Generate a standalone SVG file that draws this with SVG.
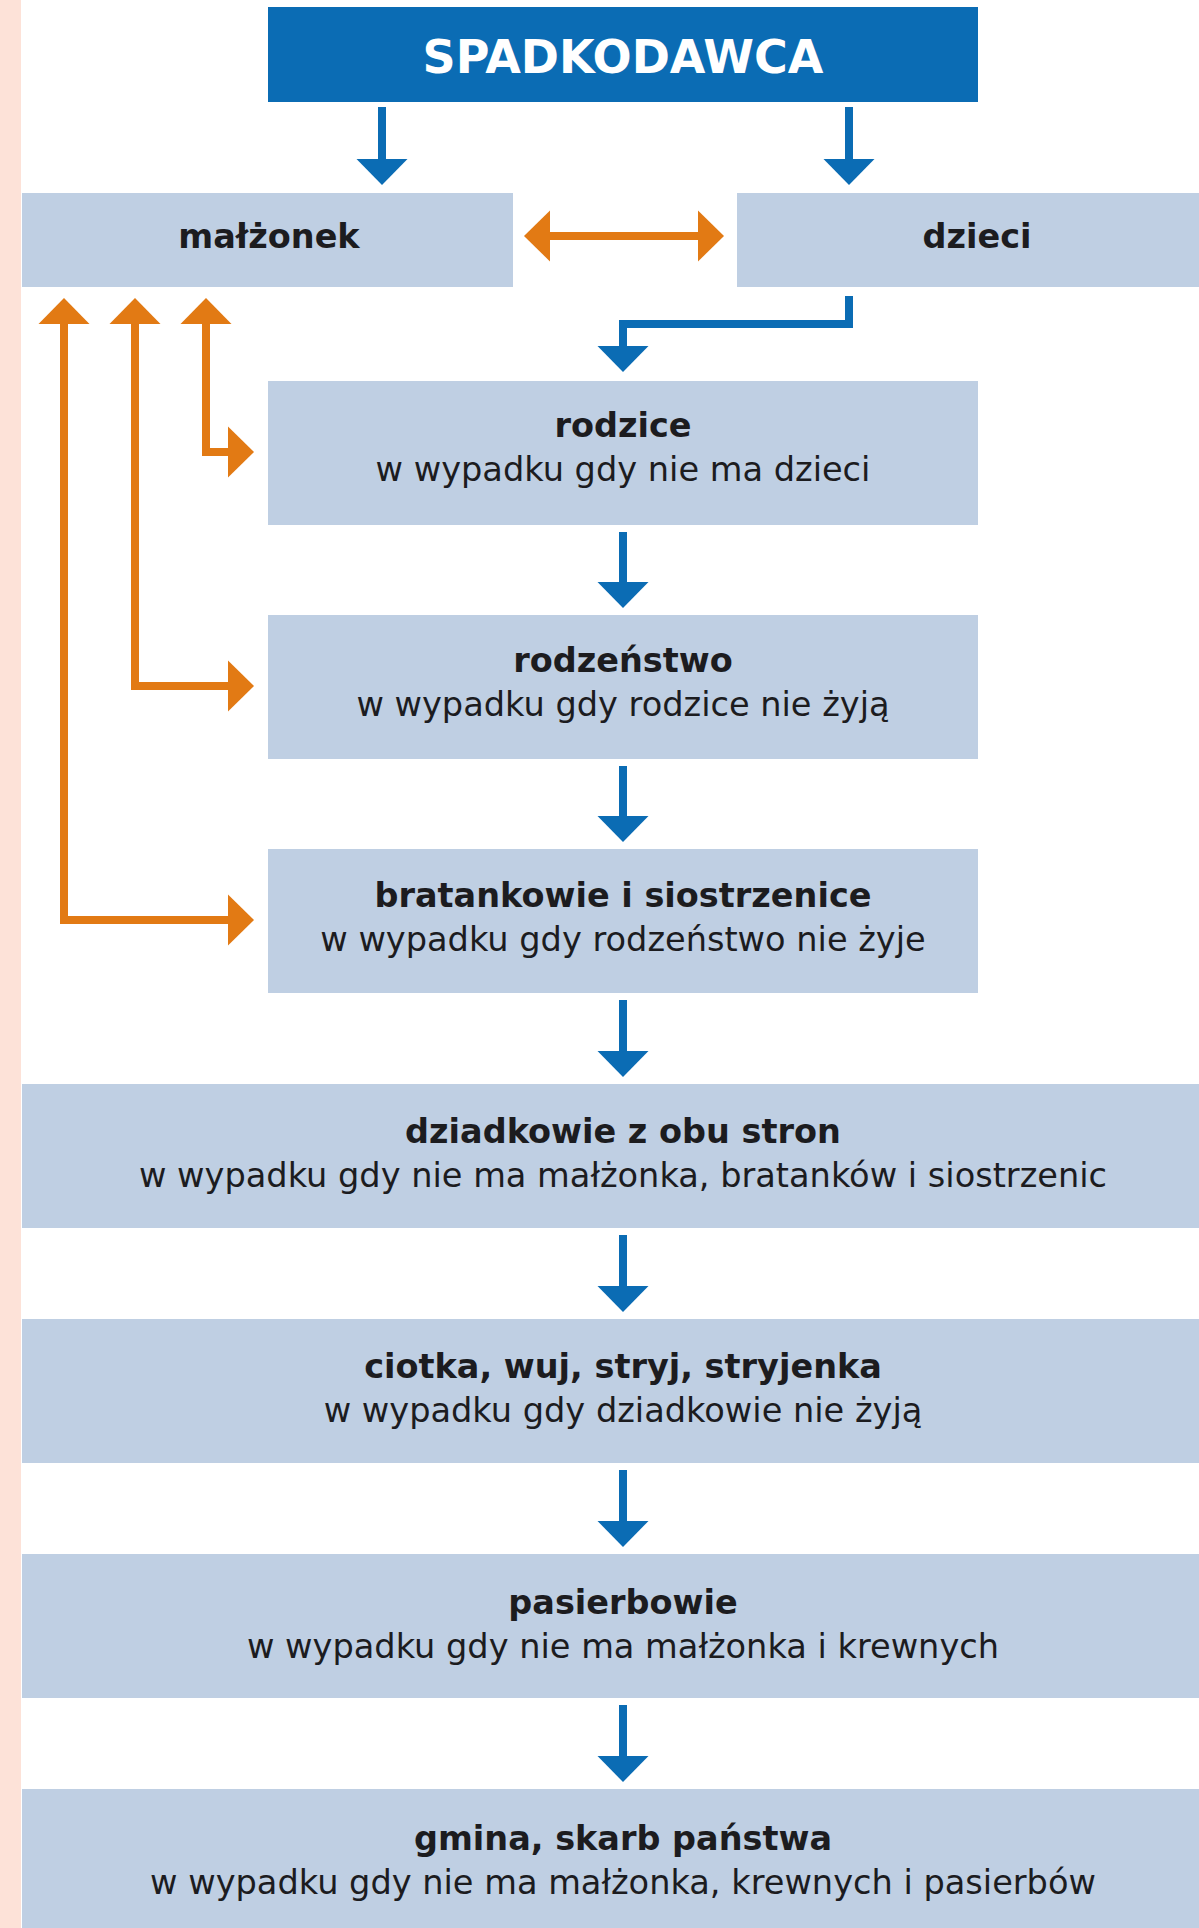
<svg xmlns="http://www.w3.org/2000/svg" width="1199" height="1928" viewBox="0 0 1199 1928">
<style>
.box{fill:#bfcfe3}
.top{fill:#0b6cb4}
.t{font-family:"DejaVu Sans","Liberation Sans",sans-serif;font-weight:bold;font-size:33.5px;fill:#1c1c1f;text-anchor:middle}
.s{font-family:"DejaVu Sans","Liberation Sans",sans-serif;font-size:33.6px;fill:#1c1c1f;text-anchor:middle}
.h{font-family:"DejaVu Sans","Liberation Sans",sans-serif;font-weight:bold;font-size:46px;fill:#ffffff;text-anchor:middle}
.cb{fill:none;stroke:#0b6cb4;stroke-width:8;stroke-linejoin:miter;marker-end:url(#hb)}
.co{fill:none;stroke:#e27a14;stroke-width:8;stroke-linejoin:miter;marker-start:url(#ho);marker-end:url(#ho)}
</style>
<defs>
<marker id="hb" markerUnits="userSpaceOnUse" markerWidth="26" markerHeight="52" viewBox="0 0 26 52" refX="1" refY="26" orient="auto-start-reverse"><path d="M0,0.5 L26,26 L0,51.5 Z" fill="#0b6cb4"/></marker>
<marker id="ho" markerUnits="userSpaceOnUse" markerWidth="26" markerHeight="52" viewBox="0 0 26 52" refX="1" refY="26" orient="auto-start-reverse"><path d="M0,0.5 L26,26 L0,51.5 Z" fill="#e27a14"/></marker>
</defs>
<rect x="0" y="0" width="1199" height="1928" fill="#ffffff"/>
<rect x="0" y="0" width="21" height="1928" fill="#fde2d8"/>

<g id="spadkodawca"><rect class="top" x="268" y="7" width="710" height="95"/><text class="h" x="623" y="73">SPADKODAWCA</text></g>
<g id="malzonek"><rect class="box" x="22" y="193" width="491" height="94"/><text class="t" x="269" y="248">małżonek</text></g>
<g id="dzieci"><rect class="box" x="737" y="193" width="462" height="94"/><text class="t" x="977" y="248">dzieci</text></g>
<g id="rodzice"><rect class="box" x="268" y="381" width="710" height="144"/><text class="t" x="623" y="437">rodzice</text><text class="s" x="623" y="481">w wypadku gdy nie ma dzieci</text></g>
<g id="rodzenstwo"><rect class="box" x="268" y="615" width="710" height="144"/><text class="t" x="623" y="672">rodzeństwo</text><text class="s" x="623" y="716">w wypadku gdy rodzice nie żyją</text></g>
<g id="bratankowie"><rect class="box" x="268" y="849" width="710" height="144"/><text class="t" x="623" y="907">bratankowie i siostrzenice</text><text class="s" x="623" y="951">w wypadku gdy rodzeństwo nie żyje</text></g>
<g id="dziadkowie"><rect class="box" x="22" y="1084" width="1177" height="144"/><text class="t" x="623" y="1143">dziadkowie z obu stron</text><text class="s" x="623" y="1187">w wypadku gdy nie ma małżonka, bratanków i siostrzenic</text></g>
<g id="ciotka"><rect class="box" x="22" y="1319" width="1177" height="144"/><text class="t" x="623" y="1378">ciotka, wuj, stryj, stryjenka</text><text class="s" x="623" y="1422">w wypadku gdy dziadkowie nie żyją</text></g>
<g id="pasierbowie"><rect class="box" x="22" y="1554" width="1177" height="144"/><text class="t" x="623" y="1614">pasierbowie</text><text class="s" x="623" y="1658">w wypadku gdy nie ma małżonka i krewnych</text></g>
<g id="gmina"><rect class="box" x="22" y="1789" width="1177" height="139"/><text class="t" x="623" y="1850">gmina, skarb państwa</text><text class="s" x="623" y="1894">w wypadku gdy nie ma małżonka, krewnych i pasierbów</text></g>

<g id="connectors">
<path class="cb" d="M382,107 V160"/>
<path class="cb" d="M849,107 V160"/>
<path class="cb" d="M849,296 V324 H623 V347"/>
<path class="cb" d="M623,532 V583"/>
<path class="cb" d="M623,766 V817"/>
<path class="cb" d="M623,1000 V1052"/>
<path class="cb" d="M623,1235 V1287"/>
<path class="cb" d="M623,1470 V1522"/>
<path class="cb" d="M623,1705 V1757"/>
<path class="co" d="M549,236 H699"/>
<path class="co" d="M206,323 V452 H229"/>
<path class="co" d="M135,323 V686 H229"/>
<path class="co" d="M64,323 V920 H229"/>
</g>
</svg>
